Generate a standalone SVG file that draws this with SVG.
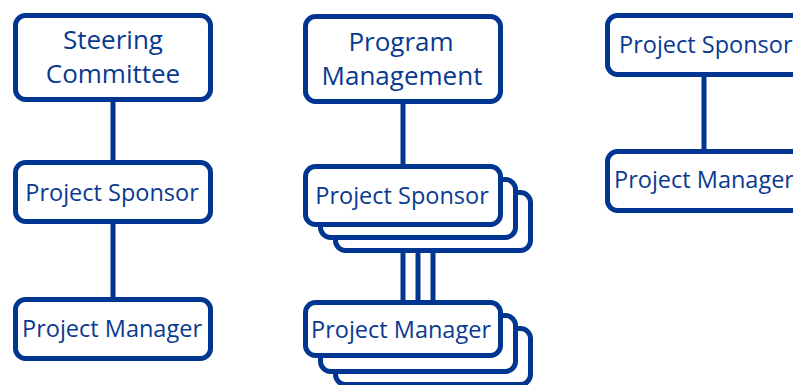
<svg xmlns="http://www.w3.org/2000/svg" width="793" height="385" viewBox="0 0 793 385">
  <style>
    .box { fill: #ffffff; stroke: #003591; stroke-width: 5; }
    .link { stroke: #003591; stroke-width: 5; fill: none; }
    .label { font-family: "Open Sans", "Liberation Sans", sans-serif; font-size: 23.5px; fill: #0a3a8f; }
    .big { font-size: 26px; }
    .mid { text-anchor: middle; }
  </style>

  <!-- connectors, drawn beneath the boxes -->
  <g id="connectors">
    <line class="link" x1="113" y1="100" x2="113" y2="163"/>
    <line class="link" x1="113" y1="222" x2="113" y2="300"/>
    <line class="link" x1="403" y1="102" x2="403" y2="167"/>
    <line class="link" x1="403" y1="224" x2="403" y2="303"/>
    <line class="link" x1="418" y1="237" x2="418" y2="303"/>
    <line class="link" x1="433" y1="250" x2="433" y2="303"/>
    <line class="link" x1="704" y1="74" x2="704" y2="152"/>
  </g>

  <!-- left column -->
  <g id="steering-committee">
    <rect class="box" x="15.5" y="15.5" width="195" height="84" rx="10"/>
    <text class="label big mid" x="113" y="49">Steering</text>
    <text class="label big mid" x="113" y="83">Committee</text>
  </g>
  <g id="project-sponsor-a">
    <rect class="box" x="15.5" y="162.5" width="195" height="59" rx="10"/>
    <text class="label mid" x="112" y="201">Project Sponsor</text>
  </g>
  <g id="project-manager-a">
    <rect class="box" x="15.5" y="299.5" width="195" height="59" rx="10"/>
    <text class="label mid" x="112" y="337">Project Manager</text>
  </g>

  <!-- middle column -->
  <g id="program-management">
    <rect class="box" x="305.5" y="16.5" width="195" height="85" rx="10"/>
    <text class="label big mid" x="401" y="51">Program</text>
    <text class="label big mid" x="402" y="85">Management</text>
  </g>
  <g id="project-sponsor-b">
    <rect class="box" x="335.5" y="192.5" width="195" height="58" rx="10"/>
    <rect class="box" x="320.5" y="179.5" width="195" height="58" rx="10"/>
    <rect class="box" x="305.5" y="166.5" width="195" height="58" rx="10"/>
    <text class="label mid" x="402" y="204">Project Sponsor</text>
  </g>
  <g id="project-manager-b">
    <rect class="box" x="335.5" y="328.5" width="195" height="56" rx="10"/>
    <rect class="box" x="320.5" y="315.5" width="195" height="56" rx="10"/>
    <rect class="box" x="305.5" y="302.5" width="195" height="53" rx="10"/>
    <text class="label mid" x="401" y="338">Project Manager</text>
  </g>

  <!-- right column -->
  <g id="project-sponsor-c">
    <rect class="box" x="607.5" y="15.5" width="200" height="59" rx="10"/>
    <text class="label" x="619" y="53">Project Sponsor</text>
  </g>
  <g id="project-manager-c">
    <rect class="box" x="607.5" y="151.5" width="200" height="59" rx="10"/>
    <text class="label" x="614" y="188">Project Manager</text>
  </g>
</svg>
